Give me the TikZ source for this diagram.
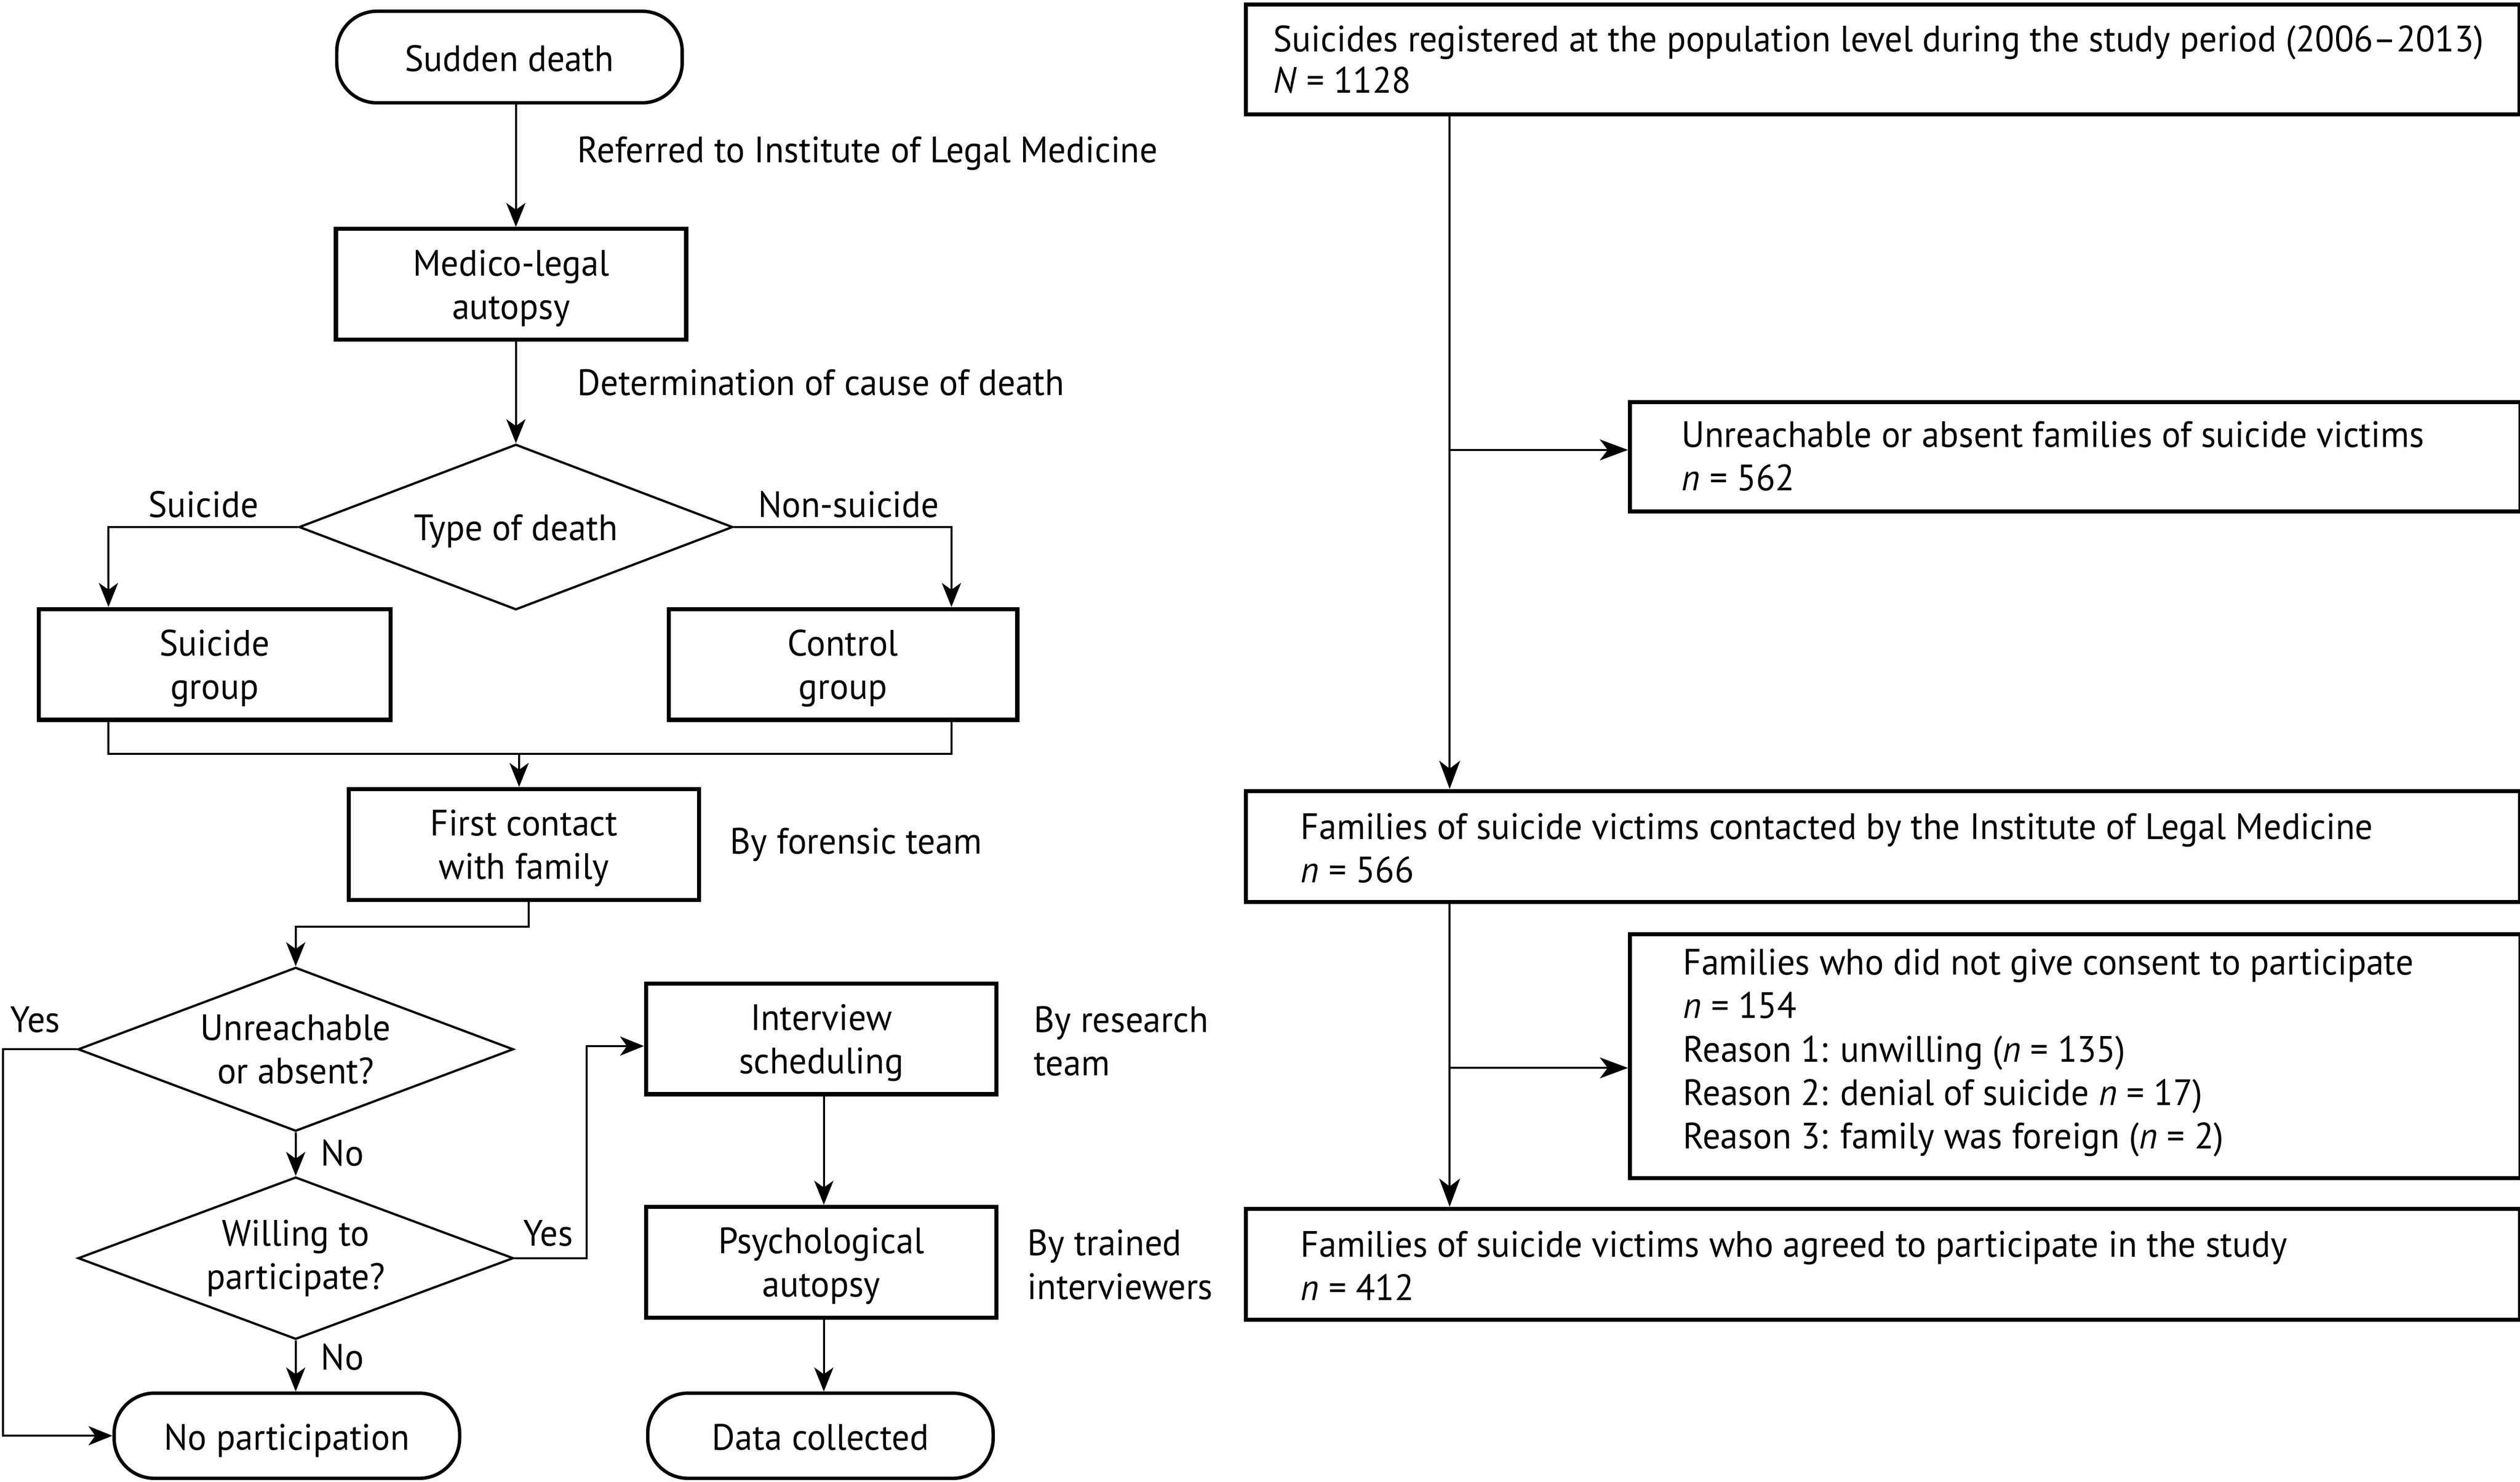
\documentclass[tikz,border=0pt]{standalone}
\usepackage{fontspec}
\setmainfont{PT Sans}[FakeStretch=0.965]
\usetikzlibrary{shapes.geometric,arrows.meta}
\begin{document}
\begin{tikzpicture}[x=0.02cm,y=-0.02cm,
 every node/.style={font=\fontsize{13}{15.4}\selectfont, inner sep=0pt},
 box/.style={draw, line width=1.45pt, align=center, text depth=0pt},
 term/.style={draw, line width=1.2pt, rounded corners=0.5cm, align=center, text height=11pt, text depth=1pt},
 dec/.style={draw, diamond, line width=0.8pt, aspect=2.65, align=center, execute at begin node={\rule{0pt}{12pt}}},
 rbox/.style={draw, line width=1.45pt, anchor=north west},
 rtext/.style={anchor=west, align=left},
 conn/.style={line width=0.7pt},
 arr/.style={conn, -{Stealth[length=8.5pt,width=6.8pt,inset=2.4pt]}},
 arrR/.style={conn, -{Stealth[length=10pt,width=7.4pt,inset=2.8pt]}},
]
\useasboundingbox (0,0) rectangle (1568,922);

% ---------------- left flow ----------------
\node[term, minimum width=4.30cm, minimum height=1.14cm] (sd) at (317,35.5) {Sudden death};
\node[box, minimum width=4.36cm, minimum height=1.38cm] (med) at (318,177) {Medico-legal\\autopsy};
\node[dec, minimum width=5.40cm, minimum height=2.06cm] (type) at (321,328) {Type of death};
\node[box, minimum width=4.38cm, minimum height=1.38cm] (sg) at (133.5,413.5) {Suicide\\group};
\node[box, minimum width=4.34cm, minimum height=1.38cm] (cg) at (524.5,413.5) {Control\\group};
\node[box, minimum width=4.36cm, minimum height=1.38cm] (fc) at (326,525.5) {First contact\\with family};
\node[dec, minimum width=5.42cm, minimum height=2.04cm] (d1) at (184,653) {Unreachable\\or absent?};
\node[dec, minimum width=5.42cm, minimum height=2.02cm] (d2) at (184,783) {Willing to\\participate?};
\node[term, minimum width=4.30cm, minimum height=1.06cm] (np) at (178.5,893.5) {No participation};
\node[box, minimum width=4.36cm, minimum height=1.38cm] (iv) at (511,646.5) {Interview\\scheduling};
\node[box, minimum width=4.36cm, minimum height=1.38cm] (pa) at (511,785.5) {Psychological\\autopsy};
\node[term, minimum width=4.30cm, minimum height=1.06cm] (dc) at (510.5,893.5) {Data collected};

% side labels
\node[anchor=west] (l1) at (359,95.5) {Referred to Institute of Legal Medicine};
\node[anchor=west] (l2) at (359,238) {Determination of cause of death};
\node (l3) at (126.6,314) {Suicide};
\node (l4) at (528,314) {Non-suicide};
\node[anchor=west] (l5) at (454,525.5) {By forensic team};
\node[anchor=west, align=left] (l6) at (643,648) {By research\\team};
\node[anchor=west, align=left] (l7) at (639,787) {By trained\\interviewers};
\node (y1) at (22,634.5) {Yes};
\node (y2) at (341,767.5) {Yes};
\node (n1) at (213,717.5) {No};
\node (n2) at (213,844.5) {No};

% connector helpers
\coordinate (sx) at (67.5,0);
\coordinate (nx) at (592,0);
\coordinate (mg) at (323,469);
\coordinate (k1) at (329,576.6);
\coordinate (yl) at (2,0);
\coordinate (yr) at (365,651);
\coordinate (ax) at (512.6,0);

\draw[arr] (sd.south -| type.north) -- (med.north -| type.north);
\draw[arr] (med.south -| type.north) -- (type.north);
\draw[arr] (type.west) -| (sg.north -| sx);
\draw[arr] (type.east) -| (cg.north -| nx);
\draw[conn] (sg.south -| sx) |- (mg) -| (cg.south -| nx);
\draw[arr] (mg) -- (fc.north -| mg);
\draw[arr] (fc.south -| k1) -- (k1) -| (d1.north);
\draw[arr] (d1.south) -- (d2.north);
\draw[arr] (d2.south) -- (np.north -| d2.south);
\draw[arr] (d1.west) -- (d1.west -| yl) |- (np.west);
\draw[arr] (d2.east) -| (yr) -- (iv.west |- yr);
\draw[arr] (iv.south -| ax) -- (pa.north -| ax);
\draw[arr] (pa.south -| ax) -- (dc.north -| ax);

% ---------------- right flow ----------------
\node[rbox, minimum width=15.85cm, minimum height=1.37cm] (top) at (774,1.5) {};
\node[rtext, font=\fontsize{13}{14.6}\selectfont] (toptx) at ([xshift=0.36cm,yshift=0cm]top.west) {Suicides registered at the population level during the study period (2006--2013)\\\textit{N} = 1128};
\node[rbox, minimum width=11.08cm, minimum height=1.36cm] (unr) at (1013,249) {};
\node[rtext] (unrtx) at ([xshift=0.66cm,yshift=0.01cm]unr.west) {Unreachable or absent families of suicide victims\\\textit{n} = 562};
\node[rbox, minimum width=15.86cm, minimum height=1.38cm] (cont) at (774,491) {};
\node[rtext] (conttx) at ([xshift=0.70cm,yshift=-0.02cm]cont.west) {Families of suicide victims contacted by the Institute of Legal Medicine\\\textit{n} = 566};
\node[rbox, minimum width=11.08cm, minimum height=3.04cm] (cons) at (1013,580) {};
\node[rtext] (constx) at ([xshift=0.68cm,yshift=0.04cm]cons.west) {Families who did not give consent to participate\\\textit{n} = 154\\Reason 1: unwilling (\textit{n} = 135)\\Reason 2: denial of suicide \textit{n} = 17)\\Reason 3: family was foreign (\textit{n} = 2)};
\node[rbox, minimum width=15.86cm, minimum height=1.38cm] (fin) at (774,751) {};
\node[rtext] (fintx) at ([xshift=0.70cm,yshift=-0.02cm]fin.west) {Families of suicide victims who agreed to participate in the study\\\textit{n} = 412};

\coordinate (sp) at (902,0);
\coordinate (b1) at (902,280);
\coordinate (b2) at (902,664.6);
\draw[arrR] (top.south -| sp) -- (cont.north -| sp);
\draw[arrR] (b1) -- (unr.west |- b1);
\draw[arrR] (cont.south -| sp) -- (fin.north -| sp);
\draw[arrR] (b2) -- (cons.west |- b2);
\end{tikzpicture}
\end{document}
